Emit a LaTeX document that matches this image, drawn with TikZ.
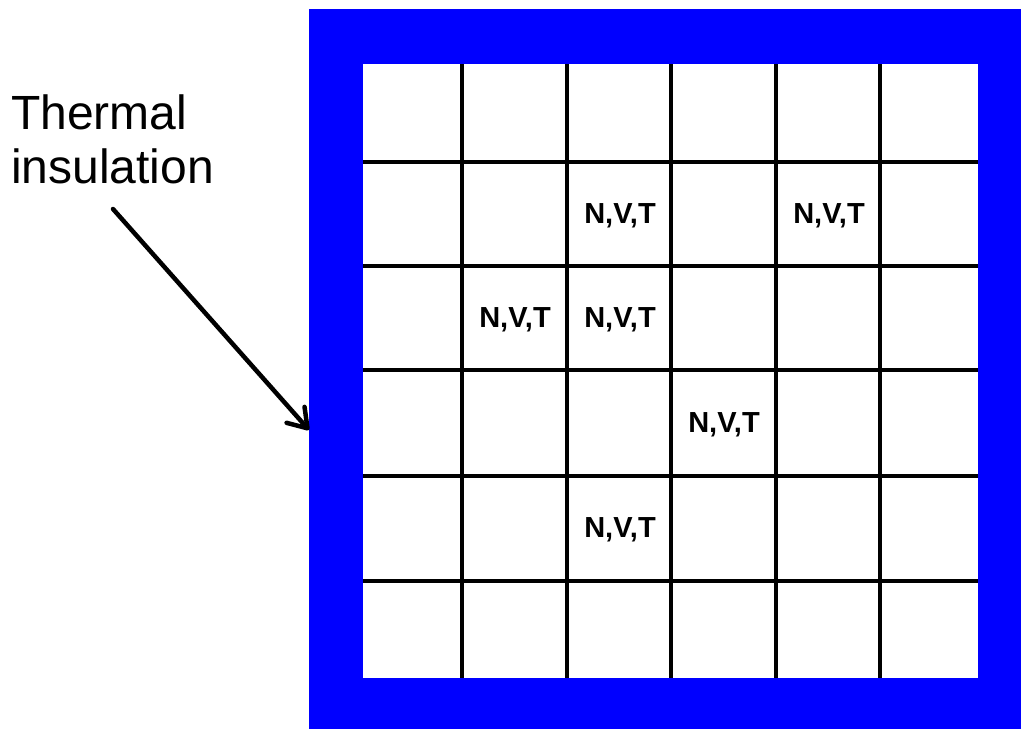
\documentclass[tikz,border=0pt]{standalone}
\usepackage{fontspec}
\setmainfont{Liberation Sans}
\usetikzlibrary{arrows.meta}
\definecolor{insblue}{RGB}{0,0,255}
\tikzset{
  gridline/.style={line width=3.7pt, black},
  cellval/.style={font=\fontsize{29}{31}\selectfont\bfseries, inner sep=0pt, anchor=base},
  lbl/.style={font=\fontsize{48}{50}\selectfont, align=left, inner sep=0pt, anchor=base west},
  pointer/.style={line width=4.5pt, -{Straight Barb[length=18pt,width=24pt,line cap=round,line join=round]}, line cap=round}
}
\begin{document}
\begin{tikzpicture}[x=1pt,y=-1pt]
\useasboundingbox (0,0) rectangle (1021,729);
% insulation
\fill[insblue] (309,9) rectangle (1021,729);
\fill[white] (363,64) rectangle (978,678);
% grid
\foreach \gx in {462,567,671,776,880} \draw[gridline] (\gx,64) -- (\gx,678);
\foreach \gy in {162,266,370,476,581} \draw[gridline] (363,\gy) -- (978,\gy);
% cell labels (base anchor: baselines)
\node[cellval] (c12) at (620,223) {N,V,T};
\node[cellval] (c14) at (829,223) {N,V,T};
\node[cellval] (c21) at (515,327) {N,V,T};
\node[cellval] (c22) at (620,327) {N,V,T};
\node[cellval] (c33) at (724,432) {N,V,T};
\node[cellval] (c42) at (620,537) {N,V,T};
% label and arrow
\node[lbl] (therm) at (11,129) {Thermal};
\node[lbl] (insul) at (11,183) {insulation};
\coordinate (from) at (113,209);
\coordinate (to) at (309,430);
\draw[pointer] (from) -- (to);
\end{tikzpicture}
\end{document}
